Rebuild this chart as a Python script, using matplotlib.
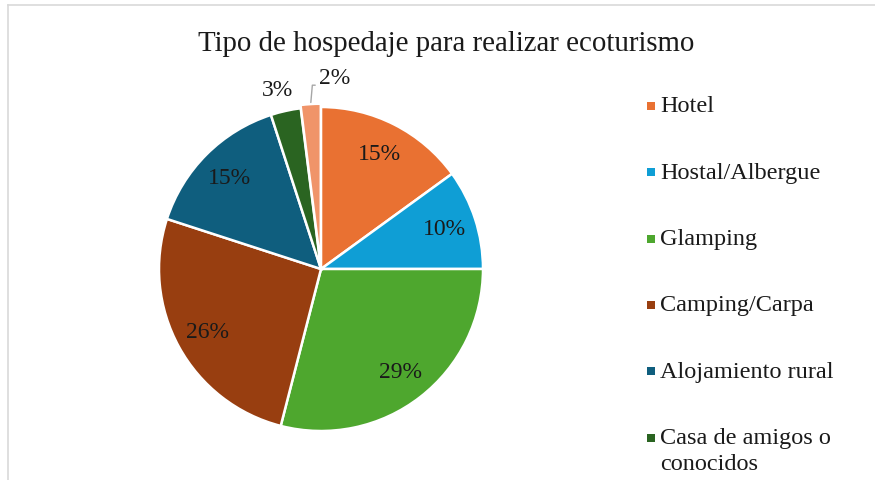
import matplotlib.pyplot as plt
import numpy as np
from matplotlib.patches import Rectangle
from matplotlib.lines import Line2D

plt.rcParams['font.family'] = ['Liberation Serif', 'DejaVu Serif']

title = "Tipo de hospedaje para realizar ecoturismo"
categories = ["Hotel", "Hostal/Albergue", "Glamping", "Camping/Carpa",
              "Alojamiento rural", "Casa de amigos o\nconocidos", "Otros"]
values = [15, 10, 29, 26, 15, 3, 2]
colors = ["#E97132", "#0F9ED5", "#4EA72E", "#983E10",
          "#0F5E7E", "#2A6421", "#F09469"]
legend_n = 6  # the last legend entry falls outside the picture

W, H = 875, 481
fig = plt.figure(figsize=(W / 100, H / 100), dpi=100)

# light frame (top and left edges visible)
fig.add_artist(Line2D([8 / W, 8 / W], [0, 1 - 6 / H], color="#d9d9d9", lw=1.2))
fig.add_artist(Line2D([8 / W, 1], [1 - 6 / H, 1 - 6 / H], color="#d9d9d9", lw=1.2))

cx, cy, r = 321, 270, 162
ax = fig.add_axes([(cx - r) / W, (H - cy - r) / H, 2 * r / W, 2 * r / H])

explode = [0, 0, 0, 0, 0, 0, 0.02]
wedges, texts, autotexts = ax.pie(
    values, colors=colors, startangle=90, counterclock=False,
    explode=explode, radius=1,
    autopct=lambda p: f"{p:.0f}%", pctdistance=0.8,
    wedgeprops=dict(edgecolor="white", linewidth=1.8),
    textprops=dict(fontsize=17, color="#1a1a1a"))
ax.set_xlim(-1, 1)
ax.set_ylim(-1, 1)
ax.axis("off")

# small slices: labels outside
autotexts[5].set_position((-0.27, 1.11))
autotexts[6].set_visible(False)
w = wedges[6]
mid = np.deg2rad((w.theta1 + w.theta2) / 2)
ax.annotate(autotexts[6].get_text(), xy=(np.cos(mid) * 1.0, np.sin(mid) * 1.03),
            xytext=(-0.01, 1.18), fontsize=17, color="#1a1a1a",
            ha="left", va="center", annotation_clip=False,
            arrowprops=dict(arrowstyle="-", color="#a6a6a6", lw=1,
                            connectionstyle="angle,angleA=0,angleB=85,rad=0",
                            relpos=(0, 0.15), shrinkA=1, shrinkB=0))

fig.text(446 / W, 1 - 44 / H, title, ha="center", va="center", fontsize=20.8,
         color="#1a1a1a")

# legend
lx, ly0, dy = 651, 107, 66.3
fs = 17.5
for i in range(legend_n):
    y = ly0 + i * dy
    fig.add_artist(Rectangle(((lx - 4) / W, 1 - (y + 4) / H), 8 / W, 8 / H,
                             facecolor=colors[i], edgecolor="none",
                             transform=fig.transFigure))
    if "\n" in categories[i]:
        fig.text((lx + 9) / W, 1 - (y - 10) / H, categories[i], ha="left",
                 va="top", fontsize=fs, color="#1a1a1a", linespacing=1.3)
    else:
        fig.text((lx + 9) / W, 1 - y / H, categories[i], ha="left",
                 va="center", fontsize=fs, color="#1a1a1a")

fig.savefig("out.png", dpi=100)
